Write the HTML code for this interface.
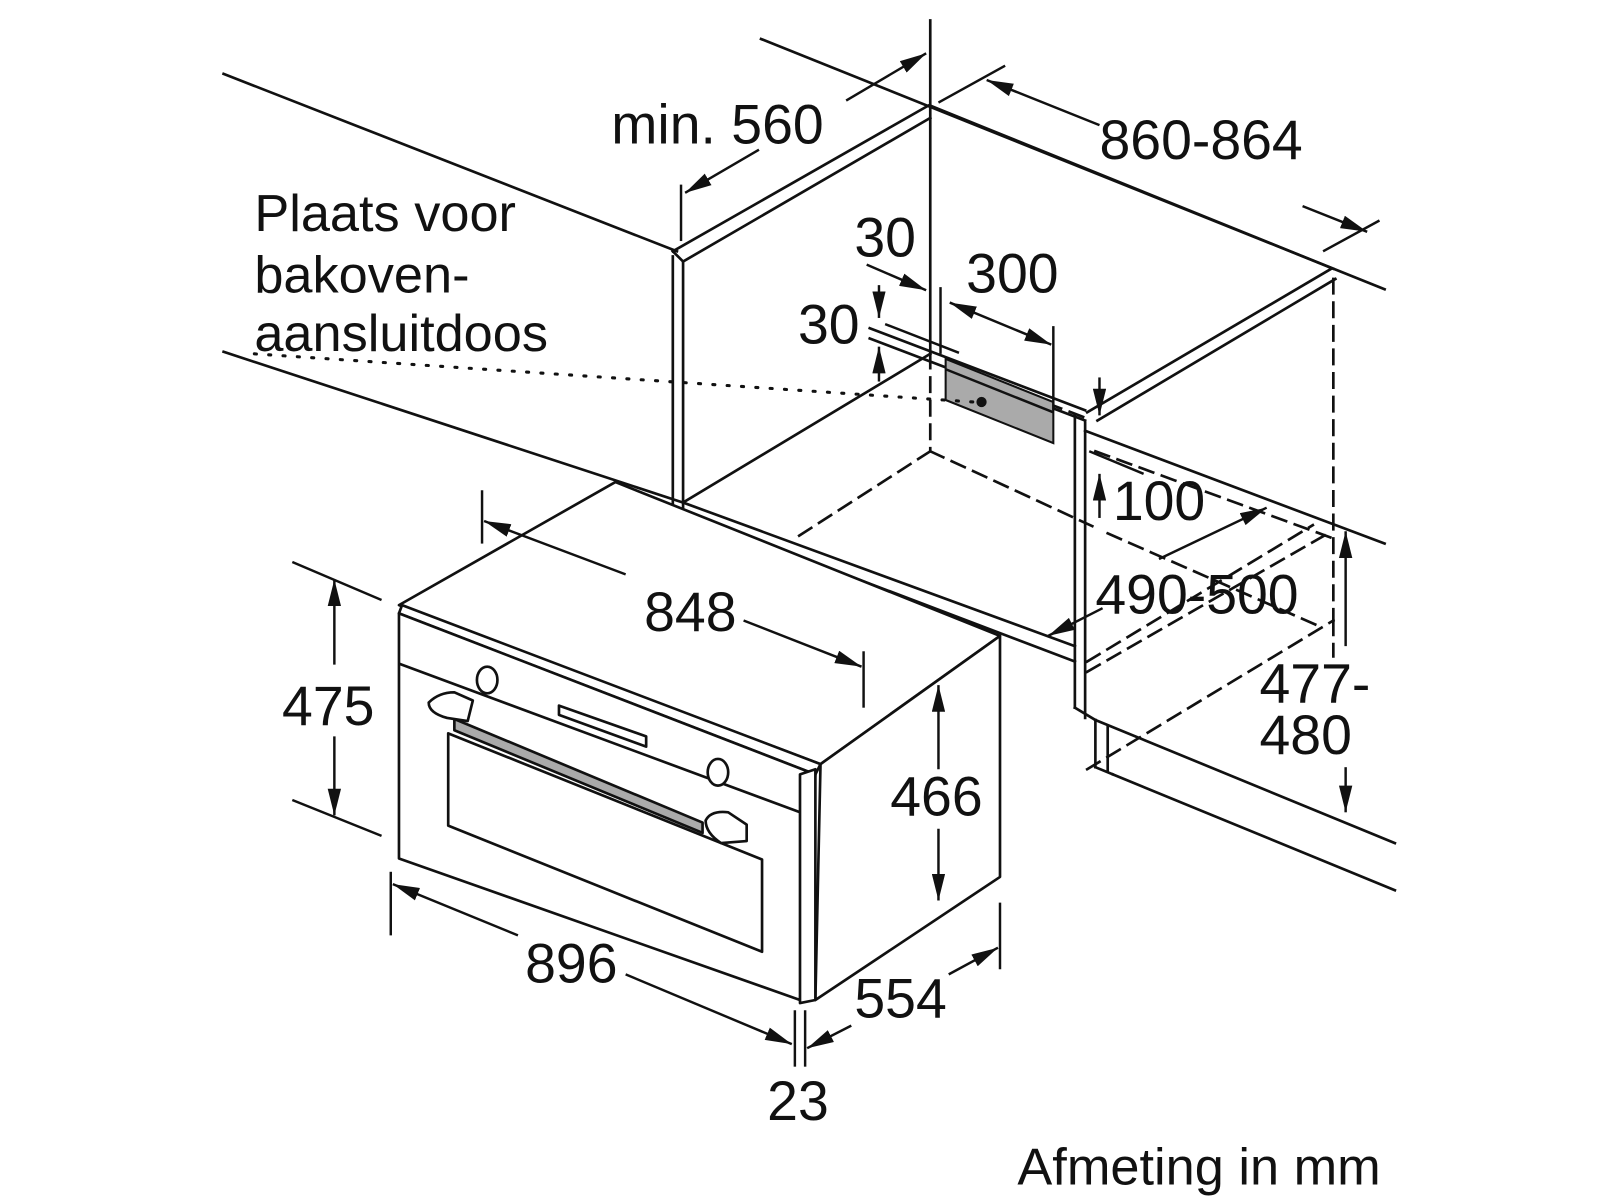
<!DOCTYPE html>
<html><head><meta charset="utf-8"><style>
html,body{margin:0;padding:0;background:#fff;}
svg{display:block;}
text{font-family:"Liberation Sans",sans-serif;fill:#111;}
</style></head><body>
<svg width="1600" height="1200" viewBox="0 0 1560 1170" xmlns="http://www.w3.org/2000/svg">
<defs>
<marker id="b" viewBox="0 0 24 12" refX="24" refY="6" markerWidth="26" markerHeight="13" orient="auto-start-reverse" markerUnits="userSpaceOnUse"><path d="M0,0 L24,6 L0,12 z" fill="#111"/></marker>
</defs>
<g stroke="#111" stroke-width="2.6" fill="none" stroke-linecap="square">
<line x1="218" y1="72" x2="660" y2="245"/>
<line x1="218" y1="343" x2="666" y2="490"/>
<line x1="656" y1="250" x2="656" y2="495"/>
<line x1="666" y1="255" x2="666" y2="495"/>
<line x1="656" y1="245" x2="905" y2="103"/>
<line x1="666" y1="255" x2="907" y2="115"/>
<line x1="656" y1="245" x2="666" y2="255"/>
<line x1="742" y1="38" x2="1350" y2="282"/>
<line x1="907" y1="103" x2="1300" y2="262"/>
<line x1="907" y1="20" x2="907" y2="345"/>
<line x1="907" y1="345" x2="907" y2="440" stroke-dasharray="14 9"/>
<line x1="1060" y1="402" x2="1298" y2="262"/>
<line x1="1070" y1="410" x2="1302" y2="272"/>
<line x1="1300" y1="272" x2="1300" y2="605" stroke-dasharray="14 9"/>
<line x1="1048" y1="405" x2="1048" y2="690"/>
<line x1="1058" y1="412" x2="1058" y2="700"/>
<line x1="1048" y1="690" x2="1068" y2="702"/>
<line x1="666" y1="490" x2="1048" y2="630"/>
<line x1="666" y1="500" x2="1048" y2="645"/>
<line x1="666" y1="490" x2="907" y2="345"/>
<line x1="848" y1="320" x2="1058" y2="400"/>
<line x1="848" y1="330" x2="1058" y2="410"/>
<line x1="1058" y1="420" x2="1350" y2="530"/>
<line x1="1068" y1="440" x2="1300" y2="525" stroke-dasharray="14 9"/>
<line x1="1000" y1="385" x2="1060" y2="408" stroke-dasharray="14 9"/>
<line x1="907" y1="440" x2="775" y2="525" stroke-dasharray="14 9"/>
<line x1="907" y1="440" x2="1065" y2="513" stroke-dasharray="14 9"/>
<line x1="1080" y1="520" x2="1285" y2="610" stroke-dasharray="14 9"/>
<line x1="1060" y1="655" x2="1295" y2="520" stroke-dasharray="14 9"/>
<line x1="1060" y1="645" x2="1280" y2="512" stroke-dasharray="14 9"/>
<line x1="1060" y1="750" x2="1300" y2="605" stroke-dasharray="14 9"/>
<line x1="1300" y1="605" x2="1300" y2="640" stroke-dasharray="14 9"/>
<line x1="1068" y1="702" x2="1360" y2="822"/>
<line x1="1085" y1="755" x2="1360" y2="868"/>
<line x1="1068" y1="702" x2="1068" y2="748"/>
<line x1="1080" y1="708" x2="1080" y2="752"/>
<line x1="1068" y1="748" x2="1085" y2="755"/>
</g>
<polygon points="922,350 1027,392 1027,432 922,390" fill="#aaa" stroke="#111" stroke-width="2"/>
<line x1="922" y1="360" x2="1027" y2="402" stroke="#111" stroke-width="2.4"/>
<circle cx="957" cy="392" r="5" fill="#111"/>
<line x1="248" y1="345" x2="950" y2="392" stroke="#111" stroke-width="3" stroke-dasharray="2 12" stroke-linecap="round"/>
<g stroke="#111" stroke-width="2.6" fill="#fff" stroke-linejoin="round">
<polygon points="389,590 600,470 975,620 800,745"/>
<polygon points="800,745 975,620 975,855 795,975"/>
<polygon points="389,598 392,590 800,745 795,755"/>
<polygon points="389,598 795,755 780,975 389,837"/>
<polygon points="780,755 795,750 795,975 780,978"/>
<line x1="389" y1="647" x2="780" y2="792"/>
<polygon points="437,715 743,838 743,928 437,805"/>
<polygon points="545,688 630,718 630,728 545,697"/>
<polygon points="443,701 685,802 685,812 443,712" fill="#aaa"/>
<path d="M418,685 q10,-10 25,-10 l18,8 l-5,20 l-20,-3 q-18,-5 -18,-15z"/>
<path d="M688,800 q5,-10 22,-8 l18,12 l0,16 l-25,2 q-15,-10 -15,-22z"/>
<ellipse cx="475" cy="663" rx="10" ry="13"/>
<ellipse cx="700" cy="753" rx="10" ry="13"/>
</g>
<g stroke="#111" stroke-width="2.4" fill="none">
<line x1="664" y1="180" x2="664" y2="235"/>
<line x1="825" y1="98" x2="903" y2="52" marker-end="url(#b)"/>
<line x1="668" y1="188" x2="740" y2="146" marker-start="url(#b)"/>
<line x1="915" y1="100" x2="980" y2="64"/>
<line x1="1290" y1="245" x2="1345" y2="215"/>
<line x1="962" y1="78" x2="1072" y2="122" marker-start="url(#b)"/>
<line x1="1270" y1="201" x2="1333" y2="226" marker-end="url(#b)"/>
<line x1="845" y1="258" x2="903" y2="283" marker-end="url(#b)"/>
<line x1="917" y1="280" x2="917" y2="345"/>
<line x1="926" y1="295" x2="1025" y2="336" marker-start="url(#b)" marker-end="url(#b)"/>
<line x1="1027" y1="318" x2="1027" y2="400"/>
<line x1="857" y1="278" x2="857" y2="310" marker-end="url(#b)"/>
<line x1="857" y1="372" x2="857" y2="338" marker-end="url(#b)"/>
<line x1="863" y1="316" x2="935" y2="344"/>
<line x1="1072" y1="368" x2="1072" y2="405" marker-end="url(#b)"/>
<line x1="1072" y1="505" x2="1072" y2="462" marker-end="url(#b)"/>
<line x1="1062" y1="440" x2="1115" y2="462"/>
<line x1="1130" y1="545" x2="1235" y2="495" marker-end="url(#b)"/>
<line x1="1075" y1="593" x2="1022" y2="620" marker-end="url(#b)"/>
<line x1="1312" y1="630" x2="1312" y2="518" marker-end="url(#b)"/>
<line x1="1312" y1="748" x2="1312" y2="792" marker-end="url(#b)"/>
<line x1="470" y1="478" x2="470" y2="530"/>
<line x1="842" y1="635" x2="842" y2="690"/>
<line x1="472" y1="508" x2="610" y2="560" marker-start="url(#b)"/>
<line x1="725" y1="605" x2="840" y2="650" marker-end="url(#b)"/>
<line x1="285" y1="548" x2="372" y2="585"/>
<line x1="285" y1="780" x2="372" y2="815"/>
<line x1="326" y1="565" x2="326" y2="648" marker-start="url(#b)"/>
<line x1="326" y1="718" x2="326" y2="795" marker-end="url(#b)"/>
<line x1="915" y1="668" x2="915" y2="750" marker-start="url(#b)"/>
<line x1="915" y1="808" x2="915" y2="878" marker-end="url(#b)"/>
<line x1="381" y1="850" x2="381" y2="912"/>
<line x1="383" y1="862" x2="505" y2="912" marker-start="url(#b)"/>
<line x1="610" y1="950" x2="772" y2="1018" marker-end="url(#b)"/>
<line x1="775" y1="985" x2="775" y2="1040"/>
<line x1="785" y1="985" x2="785" y2="1040"/>
<line x1="975" y1="880" x2="975" y2="945"/>
<line x1="787" y1="1022" x2="830" y2="1000" marker-start="url(#b)"/>
<line x1="925" y1="950" x2="973" y2="924" marker-end="url(#b)"/>
</g>
<g font-size="54">
<text x="596" y="140">min. 560</text>
<text x="1072" y="155">860-864</text>
<text x="248" y="225" font-size="51">Plaats voor</text>
<text x="248" y="285" font-size="51">bakoven-</text>
<text x="248" y="342" font-size="51">aansluitdoos</text>
<text x="833" y="250">30</text>
<text x="942" y="285">300</text>
<text x="778" y="335">30</text>
<text x="1085" y="507">100</text>
<text x="1068" y="598">490-500</text>
<text x="1228" y="685">477-</text>
<text x="1228" y="735">480</text>
<text x="628" y="615">848</text>
<text x="275" y="707">475</text>
<text x="868" y="795">466</text>
<text x="512" y="958">896</text>
<text x="833" y="992">554</text>
<text x="748" y="1092">23</text>
<text x="992" y="1155" font-size="51">Afmeting in mm</text>
</g>
</svg>
</body></html>
